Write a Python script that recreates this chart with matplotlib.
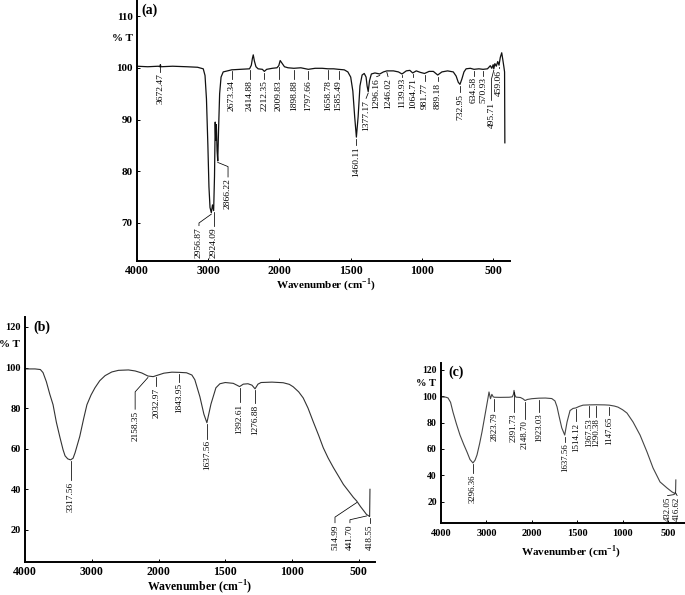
import numpy as np
import matplotlib
matplotlib.use('Agg')
import matplotlib.pyplot as plt

# spectrum (a)
a_wave = [4000, 3850, 3700, 3680, 3672, 3664, 3500, 3300, 3150, 3070, 3045, 3025, 3005, 2990, 2975,
          2956.87, 2940, 2924.09, 2912, 2902, 2895, 2886, 2876, 2866.22, 2855, 2840, 2820, 2790, 2700,
          2673.34, 2550, 2420, 2395, 2380, 2368, 2352, 2330, 2300, 2240, 2212.35, 2180, 2100, 2035,
          2009.83, 1995, 1985, 1965, 1940, 1898.88, 1850, 1797.66, 1750, 1700, 1658.78, 1620, 1585.49,
          1545, 1520, 1500, 1485, 1472, 1460.11, 1448, 1435, 1420, 1405, 1392, 1385, 1377.17, 1368,
          1355, 1330, 1296.16, 1270, 1246.02, 1200, 1165, 1139.93, 1110, 1085, 1064.71, 1040, 1010,
          981.77, 950, 920, 889.18, 860, 820, 780, 760, 745, 732.95, 720, 705, 690, 660, 634.58, 600,
          570.93, 540, 520, 510, 500, 495.71, 488, 478, 468, 459.06, 450, 440, 432, 425, 420, 418]
a_trans = [100.3, 100.2, 100.3, 100.2, 100.6, 100.2, 100.3, 100.2, 100.1, 99.8, 98.5, 94, 85, 77, 73,
           72.0, 73.5, 72.4, 79, 89.5, 86, 89, 84, 82, 88, 95, 98.2, 99.2, 99.5,
           99.6, 99.7, 99.8, 100.5, 101.8, 102.5, 101.3, 100.2, 99.8, 99.7, 99.3, 99.7, 99.9, 100.0,
           100.4, 101.4, 101.0, 100.2, 100.0, 99.9, 100.0, 99.7, 99.9, 99.9, 99.8, 99.8, 99.7,
           99.6, 99.2, 98.2, 95.5, 90.5, 86.6, 90.5, 96.5, 98.6, 98.9, 98.2, 96.5, 95.4, 97.5,
           98.8, 99.0, 98.8, 99.2, 99.4, 99.4, 99.2, 98.8, 99.4, 99.5, 99.0, 99.4, 99.1,
           98.9, 99.3, 99.3, 98.6, 99.2, 99.4, 99.2, 98.4, 97.2, 96.8, 97.8, 99.2, 99.8, 99.9, 99.7, 99.8,
           99.7, 99.8, 100.4, 99.9, 100.6, 99.8, 100.8, 100.3, 101.2, 100.5, 102.0, 102.9, 101.5, 100.2, 99.2, 85.5]
a_peaks = [3672.47, 2956.87, 2924.09, 2866.22, 2673.34, 2414.88, 2212.35, 2009.83, 1898.88, 1797.66,
           1658.78, 1585.49, 1460.11, 1377.17, 1296.16, 1246.02, 1139.93, 1064.71, 981.77, 889.18,
           732.95, 634.58, 570.93, 495.71, 459.06]

# spectrum (b)
b_wave = [4000, 3850, 3770, 3730, 3680, 3630, 3580, 3530, 3476, 3430, 3400, 3360, 3317.56, 3280, 3250,
          3180, 3120, 3072, 3010, 2952, 2880, 2800, 2700, 2600, 2450, 2350, 2250, 2158.35, 2080, 2032.97,
          1960, 1900, 1843.95, 1790, 1750, 1728, 1690, 1660, 1637.56, 1607, 1570, 1540, 1500, 1440, 1410,
          1392.61, 1365, 1330, 1300, 1276.88, 1255, 1232, 1150, 1066, 1020, 991, 950, 916, 880, 841, 800,
          766, 730, 690, 650, 615, 575, 540, 514.99, 487, 460, 441.70, 425, 418.55, 416]
b_trans = [99.3, 99.3, 99.0, 97.5, 93, 87, 81.7, 73, 65.5, 59.5, 56.5, 55, 54.5, 55.3, 58,
           66, 75, 81.7, 86.5, 90, 93.5, 96, 97.8, 98.6, 98.8, 98.3, 97.3, 95.8, 95.5, 96.0,
           97.2, 97.7, 97.6, 97.4, 96.3, 94, 85.6, 77, 72.8, 82, 90, 92, 92.6, 92.2, 91.2,
           90.6, 91.8, 92, 91.3, 89.5, 91.8, 92.6, 92.8, 92.5, 91.7, 90.5, 88, 85, 80, 73.3, 66.5,
           60.5, 55.5, 50.7, 46.3, 42.4, 39, 36, 34.2, 31.5, 29.2, 27.6, 26.9, 26.6, 40]
b_peaks = [3317.56, 2158.35, 2032.97, 1843.95, 1637.56, 1392.61, 1276.88, 514.99, 441.70, 418.55]

# spectrum (c)
c_wave = [4000, 3900, 3846, 3790, 3736, 3660, 3582, 3500, 3427, 3361, 3296.36, 3250, 3207, 3150, 3097,
          3031, 2965, 2943, 2910, 2880, 2850, 2823.79, 2700, 2500, 2430, 2405, 2391.73, 2375, 2350, 2250,
          2190, 2148.70, 2100, 2000, 1923.03, 1850, 1780, 1745, 1722, 1700, 1670, 1637.56, 1612, 1579,
          1546, 1514.12, 1480, 1436, 1367.53, 1290.38, 1200, 1147.65, 1090, 1051, 1000, 952, 885, 808,
          731, 665, 588, 511, 456, 432.05, 423, 416.62, 414]
c_trans = [99.5, 99.4, 98.8, 95.5, 88, 79, 70.6, 63.5, 57.7, 52, 49.4, 51.5, 55.5, 64, 73,
           85.8, 98.7, 103.3, 98.2, 101.5, 99.6, 99.3, 99.2, 99.3, 99.6, 101.5, 104.5, 101.2, 99.4, 99.1,
           98, 96.8, 97.6, 98.2, 98.6, 98.7, 98.3, 96.5, 92, 85, 76, 70.6, 80.5, 89.2,
           90.8, 91.2, 92.3, 93.3, 93.5, 93.6, 93.5, 93.3, 92.6, 91.8, 89.8, 87.3, 80.5, 70.6,
           57.7, 45.6, 35, 30.4, 27.4, 26.5, 25.8, 28, 36.5]
c_peaks = [3296.36, 2823.79, 2391.73, 2148.70, 1923.03, 1637.56, 1514.12, 1367.53, 1290.38, 1147.65,
           432.05, 416.62]

x_ticks = [4000, 3000, 2000, 1500, 1000, 500]


# wavenumber axis is compressed 2x above 2000 cm-1
def fwd(w):
    w = np.asarray(w, dtype=float)
    return np.where(w > 2000, 1000 + w / 2, w)


def inv(f):
    f = np.asarray(f, dtype=float)
    return np.where(f > 2000, 2 * (f - 1000), f)


def px_dy(ax, n):
    fig = ax.figure
    h = ax.get_position().height * fig.get_figheight() * fig.dpi
    y0, y1 = ax.get_ylim()
    return n * (y1 - y0) / h


def setup(ax, xlim, ylim, yticks, xfs, yfs, xpad):
    ax.set_xscale('function', functions=(fwd, inv))
    ax.set_xlim(*xlim)
    ax.set_ylim(*ylim)
    ax.set_xticks(x_ticks)
    ax.set_xticklabels([str(t) for t in x_ticks])
    ax.set_yticks(yticks)
    ax.set_yticklabels([str(t) for t in yticks])
    ax.spines[['top', 'right']].set_visible(False)
    for s in ['left', 'bottom']:
        ax.spines[s].set_linewidth(1.4)
    ax.tick_params(axis='x', labelsize=xfs, direction='in', length=2.5, width=0.7, pad=xpad)
    ax.tick_params(axis='y', labelsize=yfs, direction='in', length=2.5, width=0.7, pad=3)


def label_peaks(ax, wave, trans, peaks, tops, size, moved):
    w = np.asarray(wave)[::-1]
    t = np.asarray(trans)[::-1]
    for p, top in zip(peaks, tops):
        y0 = np.interp(p, w, t) - px_dy(ax, 1.5)
        tx, knee = moved.get(p, (p, None))
        xs = [p]
        ys = [y0]
        if knee is not None:
            xs.append(tx)
            ys.append(knee)
        xs.append(tx)
        ys.append(top + px_dy(ax, 1.5))
        ax.plot(xs, ys, color='black', lw=0.55)
        ax.text(tx, top, f'{p:.2f}', rotation=90, ha='center', va='top',
                fontsize=size, fontweight='normal')


def panel_text(ax, tag, tag_xy, pct_xy, xl_xy, fs_tag, fs_pct, fs_xl):
    ax.text(tag_xy[0], tag_xy[1], tag, transform=ax.transAxes, ha='left', va='center',
            fontsize=fs_tag, fontweight='bold')
    ax.text(pct_xy[0], pct_xy[1], '% T', transform=ax.transAxes, ha='right', va='center',
            fontsize=fs_pct, fontweight='bold')
    ax.text(xl_xy[0], xl_xy[1], r'Wavenumber (cm$^{\mathbf{-1}}$)', transform=ax.transAxes,
            ha='center', va='center', fontsize=fs_xl, fontweight='bold')


plt.rcParams['font.family'] = 'Liberation Serif'
plt.rcParams['font.weight'] = 'bold'
plt.rcParams['mathtext.fontset'] = 'custom'
plt.rcParams['mathtext.rm'] = 'Liberation Serif'
plt.rcParams['mathtext.bf'] = 'Liberation Serif:bold'

fig = plt.figure(figsize=(6.85, 5.95), dpi=100)

# (a)
ax_a = fig.add_axes([0.2, 0.5613, 0.5445, 0.4387])
setup(ax_a, (4000, 382), (62.65, 113.1), [70, 80, 90, 100, 110], 8.5, 8, 3)
ax_a.plot(a_wave, a_trans, color='#111111', lw=0.9)
a_tops = [98.9, 69.2, 69.2, 78.6, 97.6, 97.6, 97.6, 97.6, 97.6, 97.6, 97.6, 97.6, 84.7, 93.8,
          98.0, 98.0, 98.0, 98.0, 97.1, 97.1, 95.0, 98.2, 98.2, 93.4, 99.6]
label_peaks(ax_a, a_wave, a_trans, a_peaks, a_tops, 6.8,
            {2956.87: (3130, 70.0), 2866.22: (2722, 80.9), 495.71: (512, 97.8),
             1377.17: (1392, None), 1296.16: (1318, None), 1246.02: (1238, None)})
panel_text(ax_a, '(a)', (0.013, 0.962), (-0.011, 0.854), (0.507, -0.092), 10, 8, 8)

# (b)
ax_b = fig.add_axes([0.0365, 0.0555, 0.511, 0.4118])
setup(ax_b, (4000, 378), (4.2, 124.9), [20, 40, 60, 80, 100, 120], 8.5, 7.5, 3)
ax_b.plot(b_wave, b_trans, color='#333333', lw=0.8)
b_tops = [43.8, 78.7, 90.0, 92.2, 64.2, 82.3, 81.8, 22.8, 22.8, 22.8]
label_peaks(ax_b, b_wave, b_trans, b_peaks, b_tops, 6.7,
            {2158.35: (2350, 88.0), 514.99: (678, 26.3), 441.70: (566, 25.0)})
panel_text(ax_b, '(b)', (0.023, 0.959), (-0.014, 0.886), (0.5, -0.102), 10, 8, 8.5)

# (c)
ax_c = fig.add_axes([0.6438, 0.121, 0.3562, 0.2689])
setup(ax_c, (4000, 313), (3.8, 125.3), [20, 40, 60, 80, 100, 120], 7.5, 7, 4)
ax_c.plot(c_wave, c_trans, color='#444444', lw=0.8)
c_tops = [41.0, 88.0, 87.3, 82.0, 87.3, 64.5, 79.8, 83.5, 83.5, 84.3, 23.5, 23.5]
label_peaks(ax_c, c_wave, c_trans, c_peaks, c_tops, 6.3,
            {432.05: (505, None), 416.62: (400, None)})
panel_text(ax_c, '(c)', (0.029, 0.944), (-0.02, 0.875), (0.533, -0.181), 10, 7.5, 8)

fig.savefig('out.png', dpi=100)
